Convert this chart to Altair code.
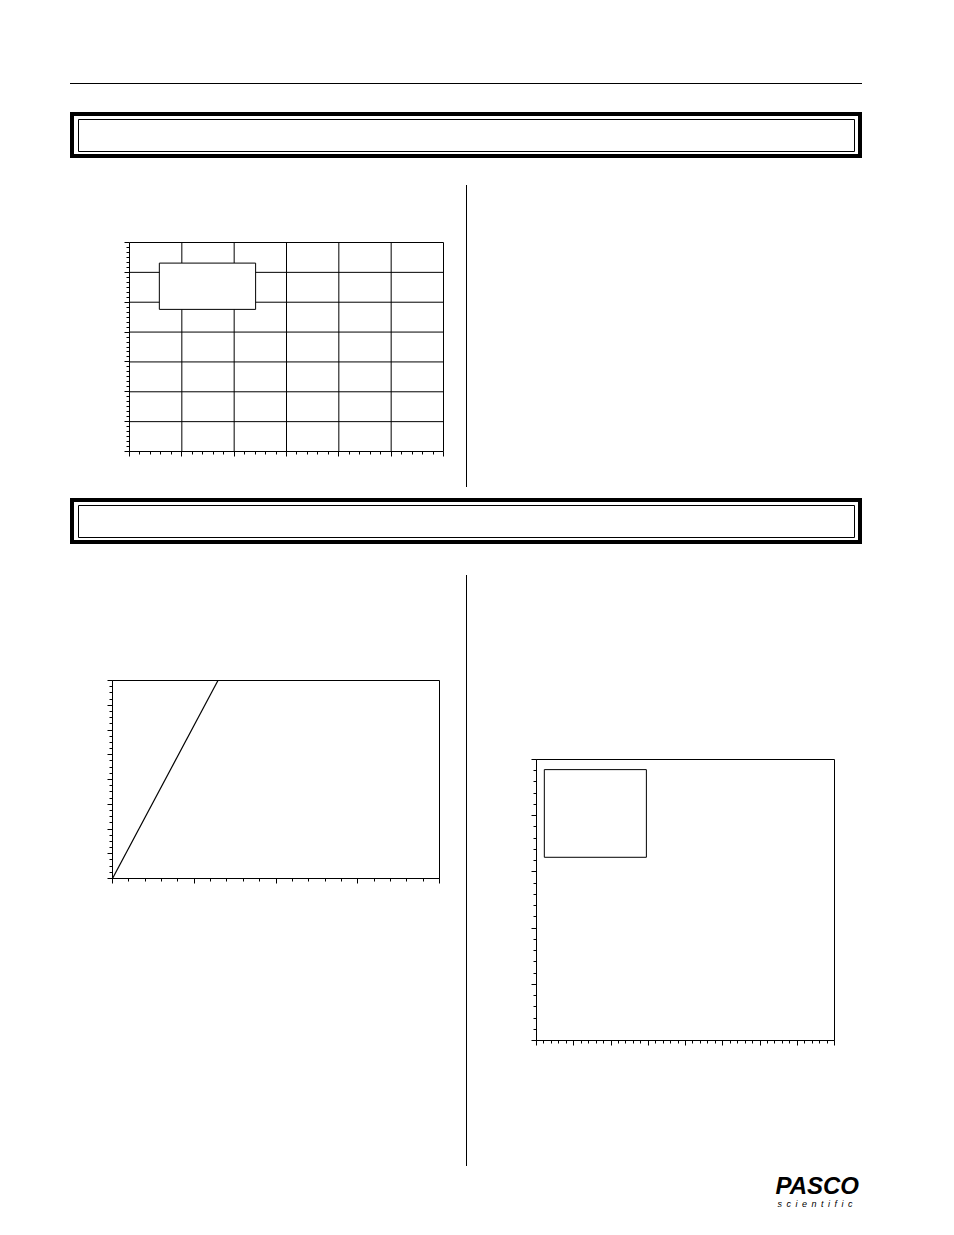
import altair as alt
import pandas as pd

# ---------------- data ----------------
# chart 1: gridded plot with an (empty) legend box
c1_x_domain = [0, 6]
c1_y_domain = [0, 7]
c1_grid_x = [1, 2, 3, 4, 5, 6]
c1_grid_y = [1, 2, 3, 4, 5, 6, 7]
c1_box_x = [0.57, 2.41]
c1_box_y = [4.76, 6.31]
c1_x_sub = 5
c1_y_sub = 6

# chart 2: straight line from the origin
c2_x_domain = [0, 4]
c2_y_domain = [0, 8]
c2_line_x = [0, 1.29]
c2_line_y = [0, 8]
c2_x_sub = 5
c2_y_sub = 4

# chart 3: empty axes with a box
c3_x_domain = [0, 8]
c3_y_domain = [0, 5]
c3_box_x = [0.21, 2.95]
c3_box_y = [3.26, 4.82]
c3_x_sub = 5
c3_y_sub = 5

logo_main = "PASCO"
logo_sub = "\u2002".join("scientific")

# ---------------- layout ----------------
W, H = 938, 1219
M = 8


def ticks(domain, sub):
    n = int(round((domain[1] - domain[0]) * sub))
    return [domain[0] + i / sub for i in range(n + 1)]


def axis(orient, offset, domain, sub):
    test = "abs(datum.value - round(datum.value)) < 1e-6"
    return alt.Axis(
        orient=orient, offset=offset, values=ticks(domain, sub),
        labels=False, title=None, grid=False,
        domainColor="black", domainWidth=1,
        tickColor="black", tickWidth=1,
        tickSize={"condition": {"test": test, "value": 5}, "value": 3},
    )


def scale(domain, rng):
    return alt.Scale(domain=domain, range=rng, nice=False, zero=False)


CRISP = dict(xOffset=0.5, x2Offset=0.5, yOffset=0.5, y2Offset=0.5)

# chart 1  (page pixels: x 129..443, y 451..242)
xs1 = scale(c1_x_domain, [129 - M, 443 - M])
ys1 = scale(c1_y_domain, [451 - M, 242 - M])
ax1x = axis("bottom", (451 - M) - H, c1_x_domain, c1_x_sub)
ax1y = axis("left", -(129 - M), c1_y_domain, c1_y_sub)

v_df = pd.DataFrame({"x": c1_grid_x, "y0": c1_y_domain[0], "y1": c1_y_domain[1]})
h_df = pd.DataFrame({"y": c1_grid_y, "x0": c1_x_domain[0], "x1": c1_x_domain[1]})
b1_df = pd.DataFrame({"x0": [c1_box_x[0]], "x1": [c1_box_x[1]],
                      "y0": [c1_box_y[0]], "y1": [c1_box_y[1]]})

c1_v = alt.Chart(v_df).mark_rule(color="black", strokeWidth=1, **CRISP).encode(
    x=alt.X("x:Q", scale=xs1, axis=ax1x),
    y=alt.Y("y0:Q", scale=ys1, axis=ax1y), y2="y1:Q")
c1_h = alt.Chart(h_df).mark_rule(color="black", strokeWidth=1, **CRISP).encode(
    y=alt.Y("y:Q", scale=ys1, axis=ax1y),
    x=alt.X("x0:Q", scale=xs1, axis=ax1x), x2="x1:Q")
c1_b = alt.Chart(b1_df).mark_rect(fill="white", stroke="black", strokeWidth=1, **CRISP).encode(
    x=alt.X("x0:Q", scale=xs1, axis=ax1x), x2="x1:Q",
    y=alt.Y("y0:Q", scale=ys1, axis=ax1y), y2="y1:Q")
chart1 = alt.layer(c1_v, c1_h, c1_b)

# chart 2  (page pixels: x 112..439, y 878..680)
xs2 = scale(c2_x_domain, [112 - M, 439 - M])
ys2 = scale(c2_y_domain, [878 - M, 680 - M])
ax2x = axis("bottom", (878 - M) - H, c2_x_domain, c2_x_sub)
ax2y = axis("left", -(112 - M), c2_y_domain, c2_y_sub)

f2_df = pd.DataFrame({"x0": [c2_x_domain[0]], "x1": [c2_x_domain[1]],
                      "y0": [c2_y_domain[0]], "y1": [c2_y_domain[1]]})
l2_df = pd.DataFrame({"x": c2_line_x, "y": c2_line_y})

c2_f = alt.Chart(f2_df).mark_rect(fill="white", fillOpacity=0, stroke="black", strokeWidth=1, **CRISP).encode(
    x=alt.X("x0:Q", scale=xs2, axis=ax2x), x2="x1:Q",
    y=alt.Y("y0:Q", scale=ys2, axis=ax2y), y2="y1:Q")
c2_l = alt.Chart(l2_df).mark_line(color="black", strokeWidth=1.2, xOffset=0.5, yOffset=0.5).encode(
    x=alt.X("x:Q", scale=xs2, axis=ax2x),
    y=alt.Y("y:Q", scale=ys2, axis=ax2y))
chart2 = alt.layer(c2_f, c2_l)

# chart 3  (page pixels: x 536..834, y 1040..759)
xs3 = scale(c3_x_domain, [536 - M, 834 - M])
ys3 = scale(c3_y_domain, [1040 - M, 759 - M])
ax3x = axis("bottom", (1040 - M) - H, c3_x_domain, c3_x_sub)
ax3y = axis("left", -(536 - M), c3_y_domain, c3_y_sub)

f3_df = pd.DataFrame({"x0": [c3_x_domain[0]], "x1": [c3_x_domain[1]],
                      "y0": [c3_y_domain[0]], "y1": [c3_y_domain[1]]})
b3_df = pd.DataFrame({"x0": [c3_box_x[0]], "x1": [c3_box_x[1]],
                      "y0": [c3_box_y[0]], "y1": [c3_box_y[1]]})

c3_f = alt.Chart(f3_df).mark_rect(fill="white", fillOpacity=0, stroke="black", strokeWidth=1, **CRISP).encode(
    x=alt.X("x0:Q", scale=xs3, axis=ax3x), x2="x1:Q",
    y=alt.Y("y0:Q", scale=ys3, axis=ax3y), y2="y1:Q")
c3_b = alt.Chart(b3_df).mark_rect(fill="white", fillOpacity=0, stroke="black", strokeWidth=1, **CRISP).encode(
    x=alt.X("x0:Q", scale=xs3, axis=ax3x), x2="x1:Q",
    y=alt.Y("y0:Q", scale=ys3, axis=ax3y), y2="y1:Q")
chart3 = alt.layer(c3_f, c3_b)

# page decorations
dummy = pd.DataFrame({"k": [0]})


def deco_rect(x, x2, y, y2, sw):
    return alt.Chart(dummy).mark_rect(fill="white", fillOpacity=0, stroke="black", strokeWidth=sw).encode(
        x=alt.value(x - M), x2=alt.value(x2 - M), y=alt.value(y - M), y2=alt.value(y2 - M))


def hrule(x, x2, y):
    return alt.Chart(dummy).mark_rule(color="black", strokeWidth=1).encode(
        x=alt.value(x - M), x2=alt.value(x2 - M), y=alt.value(y - M))


def vrule(x, y, y2):
    return alt.Chart(dummy).mark_rule(color="black", strokeWidth=1).encode(
        x=alt.value(x - M), y=alt.value(y - M), y2=alt.value(y2 - M))


decos = [
    hrule(70, 862, 83.5),
    deco_rect(72, 860, 114, 156, 4),
    deco_rect(78.5, 854.5, 119.5, 151.5, 1),
    deco_rect(72, 860, 500, 542, 4),
    deco_rect(78.5, 854.5, 505.5, 537.5, 1),
    vrule(466.5, 185, 487),
    vrule(466.5, 575, 1166),
    alt.Chart(dummy).mark_text(text=logo_main, font="Liberation Sans", fontSize=24,
                               fontWeight="bold", fontStyle="italic", align="right",
                               baseline="alphabetic", color="black").encode(
        x=alt.value(859 - M), y=alt.value(1194 - M)),
    alt.Chart(dummy).mark_text(text=logo_sub, font="Liberation Sans", fontSize=9,
                               fontStyle="italic", align="center",
                               baseline="alphabetic", color="black").encode(
        x=alt.value(815 - M), y=alt.value(1207 - M)),
]

chart = alt.layer(*decos, chart1, chart2, chart3).resolve_scale(
    x="independent", y="independent"
).properties(
    width=W, height=H, autosize=alt.AutoSizeParams(type="none"), padding=0,
    background="white",
).configure_view(strokeWidth=0)

chart.save("out.html", embed_options={"renderer": "svg", "actions": False})
